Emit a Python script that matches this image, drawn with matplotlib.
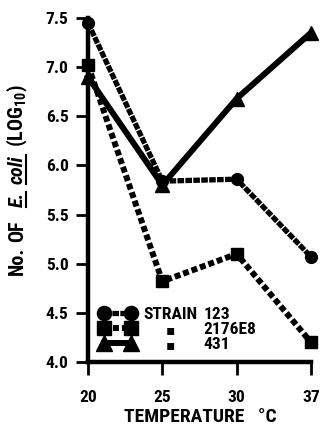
import matplotlib
matplotlib.use("Agg")
import matplotlib.pyplot as plt
from matplotlib import font_manager
from matplotlib.lines import Line2D

# Survival data: log10 counts of E. coli per strain at each temperature
temps = ["20", "25", "30", "37"]
strain_123 = [7.45, 5.84, 5.86, 5.07]
strain_2176e8 = [7.02, 4.82, 5.10, 4.20]
strain_431 = [6.90, 5.80, 6.68, 7.35]
strain_names = ["123", "2176E8", "431"]
yticks = [4.0, 4.5, 5.0, 5.5, 6.0, 6.5, 7.0, 7.5]

# Prefer a narrow sans face for the figure lettering
installed = {f.name for f in font_manager.fontManager.ttflist}
family, stretch = "DejaVu Sans", "normal"
for cand in ("Roboto Condensed", "Liberation Sans Narrow", "Open Sans Condensed"):
    if cand in installed:
        family = cand
        break
else:
    if any(f.name == "DejaVu Sans" and f.stretch == "condensed"
           for f in font_manager.fontManager.ttflist):
        stretch = "condensed"
families = [family, "DejaVu Sans"]

plt.rcParams["font.family"] = families
plt.rcParams["font.stretch"] = stretch
plt.rcParams["font.weight"] = "bold"
plt.rcParams["axes.labelweight"] = "bold"
plt.rcParams["mathtext.fontset"] = "custom"
plt.rcParams["mathtext.rm"] = family + ":bold"
plt.rcParams["mathtext.it"] = family + ":italic:bold"

W, H = 322, 429
fig = plt.figure(figsize=(W / 100, H / 100), dpi=100)
ax = fig.add_axes([88 / W, 1 - 362 / H, (311 - 88) / W, (362 - 18) / H])

x = list(range(len(temps)))

styles = [
    dict(marker="o", ms=8.5, lw=3.8, dashes=(1.25, 0.25), dash_capstyle="butt"),
    dict(marker="s", ms=8.5, lw=4.3, dashes=(1.0, 0.5), dash_capstyle="butt"),
    dict(marker="^", ms=9.5, lw=4.3, linestyle="-"),
]
series = [strain_123, strain_2176e8, strain_431]
for vals, st in zip(series, styles):
    ax.plot(x, vals, color="black", mfc="black", mec="black",
            clip_on=False, zorder=3, **st)

ax.set_xlim(0, len(temps) - 1)
ax.set_ylim(4.0, 7.5)
ax.set_xticks(x)
ax.set_xticklabels(temps)
ax.set_yticks(yticks)
ax.set_yticklabels([f"{v:.1f}" for v in yticks])

for side in ("top", "right"):
    ax.spines[side].set_visible(False)
for side in ("left", "bottom"):
    ax.spines[side].set_linewidth(3.2)
    ax.spines[side].set_capstyle("projecting")
ax.tick_params(axis="both", length=9, width=2, direction="out",
               labelsize=12.5, color="black")
ax.tick_params(axis="y", pad=5)
ax.tick_params(axis="x", pad=11)

ax.set_xlabel("TEMPERATURE   \u00b0C", fontsize=14, fontweight="bold", va="top")
ax.xaxis.set_label_coords(0.505, -0.133)

# Legend: marker-line-marker samples; names are laid out beside them afterwards
handles = []
for st in styles:
    kw = dict(st)
    kw["ms"] = kw["ms"] * 1.2
    handles.append(Line2D([0, 1], [0, 0], color="black", mfc="black",
                          mec="black", **kw))
leg = ax.legend(handles, ["STRAIN", "\u25aa", "\u25aa"], loc="lower left",
                bbox_to_anchor=(0.0, -0.005), frameon=False, numpoints=2,
                handlelength=2.1, handletextpad=0.45, labelspacing=0.0,
                borderaxespad=0.25, prop=dict(family=families, stretch=stretch,
                                              weight="bold", size=12.5))

fig.canvas.draw()
renderer = fig.canvas.get_renderer()
texts = leg.get_texts()
head = texts[0].get_window_extent(renderer)
name_x = head.x1 + 6
for i, t in enumerate(texts):
    bb = t.get_window_extent(renderer)
    yc = (bb.y0 + bb.y1) / 2
    if i > 0:
        t.set_visible(False)
        fig.text((head.x0 + head.x1) / 2, yc, "\u25aa", ha="center", va="center",
                 fontsize=10, fontweight="bold", family=families, transform=None)
    fig.text(name_x, yc, strain_names[i], ha="left", va="center",
             fontsize=12.5, fontweight="bold", transform=None)

# Vertical y-axis label assembled from pieces so "E." and "coli" get underlines
pieces = [("No.", "normal", 5), ("OF", "normal", 13), ("E.", "italic", 8),
          ("coli", "italic", 8), ("(LOG$_{\\mathregular{10}}$)", "normal", 0)]
base_x = 23
cur_y = H - 275
for txt, style, gap in pieces:
    t = fig.text(base_x, cur_y, txt, rotation=90, rotation_mode="anchor",
                 ha="left", va="baseline", fontsize=14.5, fontstyle=style,
                 fontweight="bold", transform=None)
    bb = t.get_window_extent(renderer)
    if style == "italic":
        fig.add_artist(Line2D([base_x + 3, base_x + 3], [bb.y0, bb.y1],
                              color="black", lw=1.5, transform=None))
    cur_y = bb.y1 + gap

fig.savefig("out.png", dpi=100)
